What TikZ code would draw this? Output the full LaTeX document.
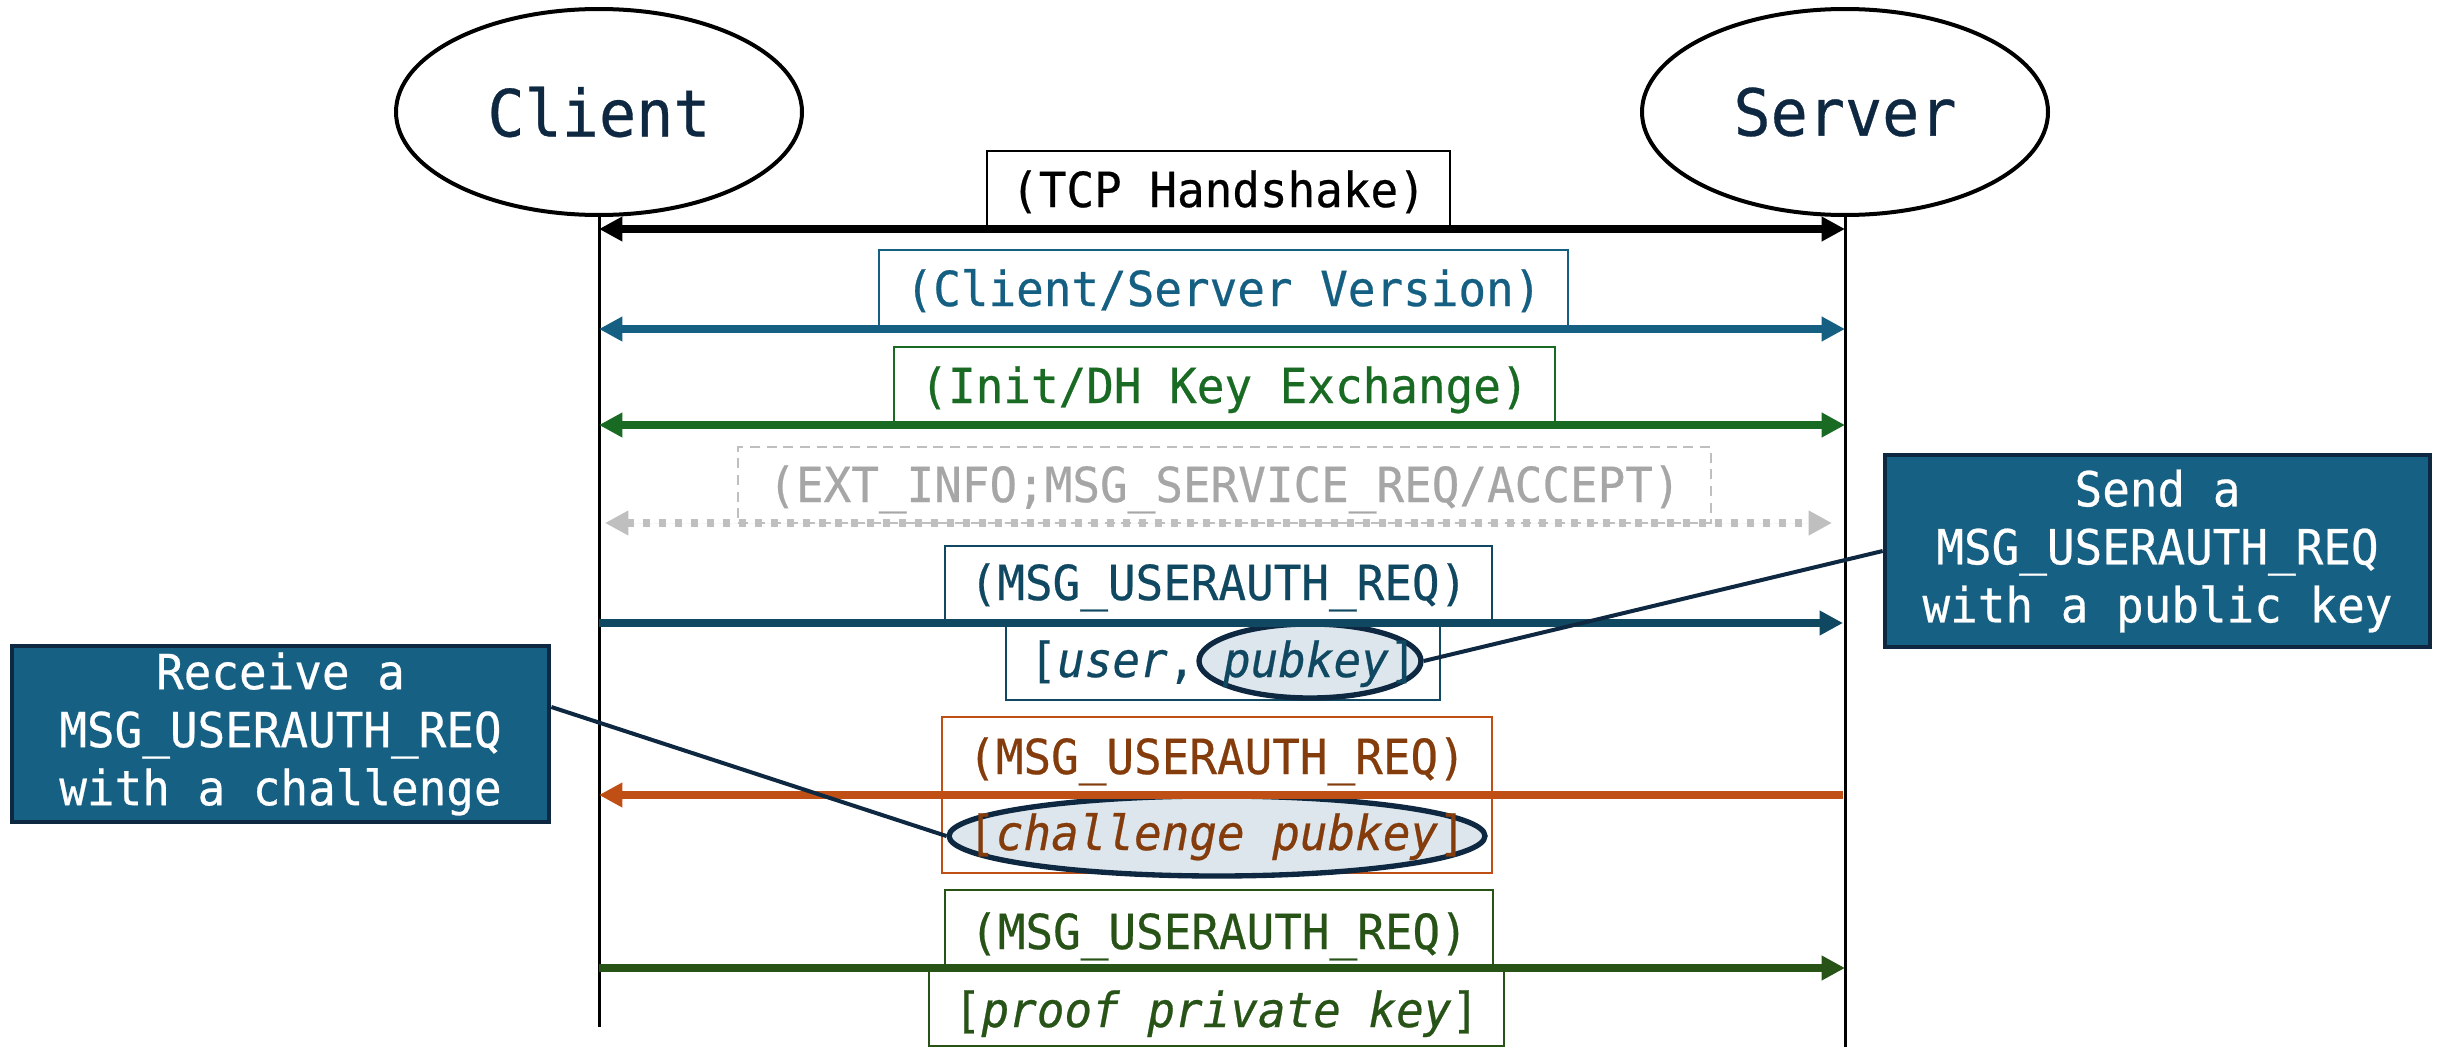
\documentclass[tikz,border=0pt]{standalone}
\usepackage{fontspec}
\newfontfamily\mf{DejaVu Sans Mono}[FakeStretch=0.95,FakeBold=0.5]
\usetikzlibrary{arrows.meta,shapes.geometric,calc}
\definecolor{cdark}{HTML}{0E2841}
\definecolor{cblue}{HTML}{156082}
\definecolor{cgreen}{HTML}{196B24}
\definecolor{cgrayl}{HTML}{BFBFBF}
\definecolor{cgrayt}{HTML}{A6A6A6}
\definecolor{cnavy}{HTML}{104862}
\definecolor{corl}{HTML}{C04F15}
\definecolor{cort}{HTML}{843C0C}
\definecolor{cdg}{HTML}{275317}
\definecolor{cfill}{HTML}{DCE6EC}
\definecolor{ccall}{HTML}{166083}
\begin{document}
\begin{tikzpicture}[x=0.3pt,y=-0.3pt,
  lbl/.style={font=\mf\fontsize{14.5}{17.4}\selectfont, inner sep=0pt, anchor=base},
  frame/.style={draw, line width=0.5pt, inner sep=0pt, anchor=center},
  actor/.style={ellipse, draw=black, line width=1.2pt, inner sep=0pt,
    minimum width=121.8pt, minimum height=61.8pt, text=cdark,
    font=\mf\fontsize{19.5}{22}\selectfont},
  life/.style={line width=0.9pt, draw=black},
  msg/.style={line width=2.2pt},
  tipr/.style={-{Triangle[length=7pt,width=7pt]}},
  tipl/.style={{Triangle[length=7pt,width=7pt]}-},
  tipb/.style={{Triangle[length=7pt,width=7pt]}-{Triangle[length=7pt,width=7pt]}},
  hl/.style={ellipse, draw=cdark, fill=cfill, line width=1.6pt, inner sep=0pt},
  callbox/.style={draw=cdark, fill=ccall, line width=1.4pt, text=white, align=center,
    inner sep=0pt, font=\mf\fontsize{14.5}{17.4}\selectfont},
  conn/.style={draw=cdark, line width=1.2pt}
]
\useasboundingbox (0,0) rectangle (2445,1047);

% actors
\node[actor] (client) at (599,112) {Client};
\node[actor] (server) at (1845,112) {Server};
\coordinate (cbot) at (599,1027);
\coordinate (sbot) at (1845,1047);
\draw[life] (client.south) -- (cbot);
\draw[life] (server.south) -- (sbot);

% lifeline points
\coordinate (c1) at (599,229);  \coordinate (s1) at (1845,229);
\coordinate (c2) at (599,329);  \coordinate (s2) at (1845,329);
\coordinate (c3) at (599,425);  \coordinate (s3) at (1845,425);
\coordinate (c4) at (599,523);  \coordinate (s4) at (1845,523);
\coordinate (c5) at (599,623);  \coordinate (s5) at (1843,623);
\coordinate (c6) at (599,795);  \coordinate (s6) at (1843,795);
\coordinate (c7) at (599,968);  \coordinate (s7) at (1845,968);

% frames
\node[frame, draw=black, minimum width=138.9pt, minimum height=23.4pt] (bTCP) at (1218.5,190) {};
\node[frame, draw=cblue, minimum width=206.7pt, minimum height=23.7pt] (bVer) at (1223.5,289.5) {};
\node[frame, draw=cgreen, minimum width=198.3pt, minimum height=23.4pt] (bDH) at (1224.5,386) {};
\node[frame, draw=cgrayl, dash pattern=on 3pt off 2pt, minimum width=291.9pt, minimum height=22.8pt] (bExt) at (1224.5,485) {};
\node[frame, draw=cnavy, minimum width=164.1pt, minimum height=23.1pt] (bN1) at (1218.5,584.5) {};
\node[frame, draw=cnavy, minimum width=130.2pt, minimum height=23.1pt] (bN2) at (1223,661.5) {};
\node[frame, draw=corl, minimum width=165pt, minimum height=46.8pt] (bOr) at (1217,795) {};
\node[frame, draw=cdg, minimum width=164.4pt, minimum height=23.4pt] (bG1) at (1219,929) {};
\node[frame, draw=cdg, minimum width=172.5pt, minimum height=23.4pt] (bG2) at (1216.5,1007) {};

% highlight ellipses
\node[hl, minimum width=66.6pt, minimum height=22.2pt] (pk) at (1310,661) {};
\node[hl, minimum width=160.8pt, minimum height=24pt] (chal) at (1217,836) {};

% labels
\node[lbl, text=black] (tTCP) at (1218.5,207) {(TCP Handshake)};
\node[lbl, text=cblue] (tVer) at (1223.5,306) {(Client/Server Version)};
\node[lbl, text=cgreen] (tDH) at (1224.5,403) {(Init/DH Key Exchange)};
\node[lbl, text=cgrayt] (tExt) at (1224.5,502) {(EXT\_INFO;MSG\_SERVICE\_REQ/ACCEPT)};
\node[lbl, text=cnavy] (tN1) at (1218.5,600) {(MSG\_USERAUTH\_REQ)};
\node[lbl, text=cnavy] (tN2) at (1223,677) {[\textit{user}, \textit{pubkey}]};
\node[lbl, text=cort] (tO1) at (1217,774) {(MSG\_USERAUTH\_REQ)};
\node[lbl, text=cort] (tO2) at (1217,850) {[\textit{challenge pubkey}]};
\node[lbl, text=cdg] (tG1) at (1219,949) {(MSG\_USERAUTH\_REQ)};
\node[lbl, text=cdg] (tG2) at (1216.5,1027) {[\textit{proof private key}]};

% messages
\draw[msg, tipb, draw=black, fill=black] (c1) -- (s1);
\draw[msg, tipb, draw=cblue, fill=cblue] (c2) -- (s2);
\draw[msg, tipb, draw=cgreen, fill=cgreen] (c3) -- (s3);
\draw[msg, tipb, draw=cgrayl, fill=cgrayl, dash pattern=on 2.1pt off 2.7pt,
      shorten <=1.8pt, shorten >=3.9pt] (c4) -- (s4);
\draw[msg, tipr, draw=cnavy, fill=cnavy] (c5) -- (s5);
\draw[msg, tipl, draw=corl, fill=corl] (c6) -- (s6);
\draw[msg, tipr, draw=cdg, fill=cdg] (c7) -- (s7);

% callouts
\node[callbox, minimum width=163.5pt, minimum height=57.6pt] (rcall) at (2157.5,551)
  {Send a\\MSG\_USERAUTH\_REQ\\with a public key};
\node[callbox, minimum width=161.1pt, minimum height=52.8pt] (lcall) at (280.5,734)
  {Receive a\\MSG\_USERAUTH\_REQ\\with a challenge};

\draw[conn] (rcall.west) -- (pk.east);
\draw[conn] ([yshift=8.1pt]lcall.east) -- (chal.west);
\end{tikzpicture}
\end{document}
